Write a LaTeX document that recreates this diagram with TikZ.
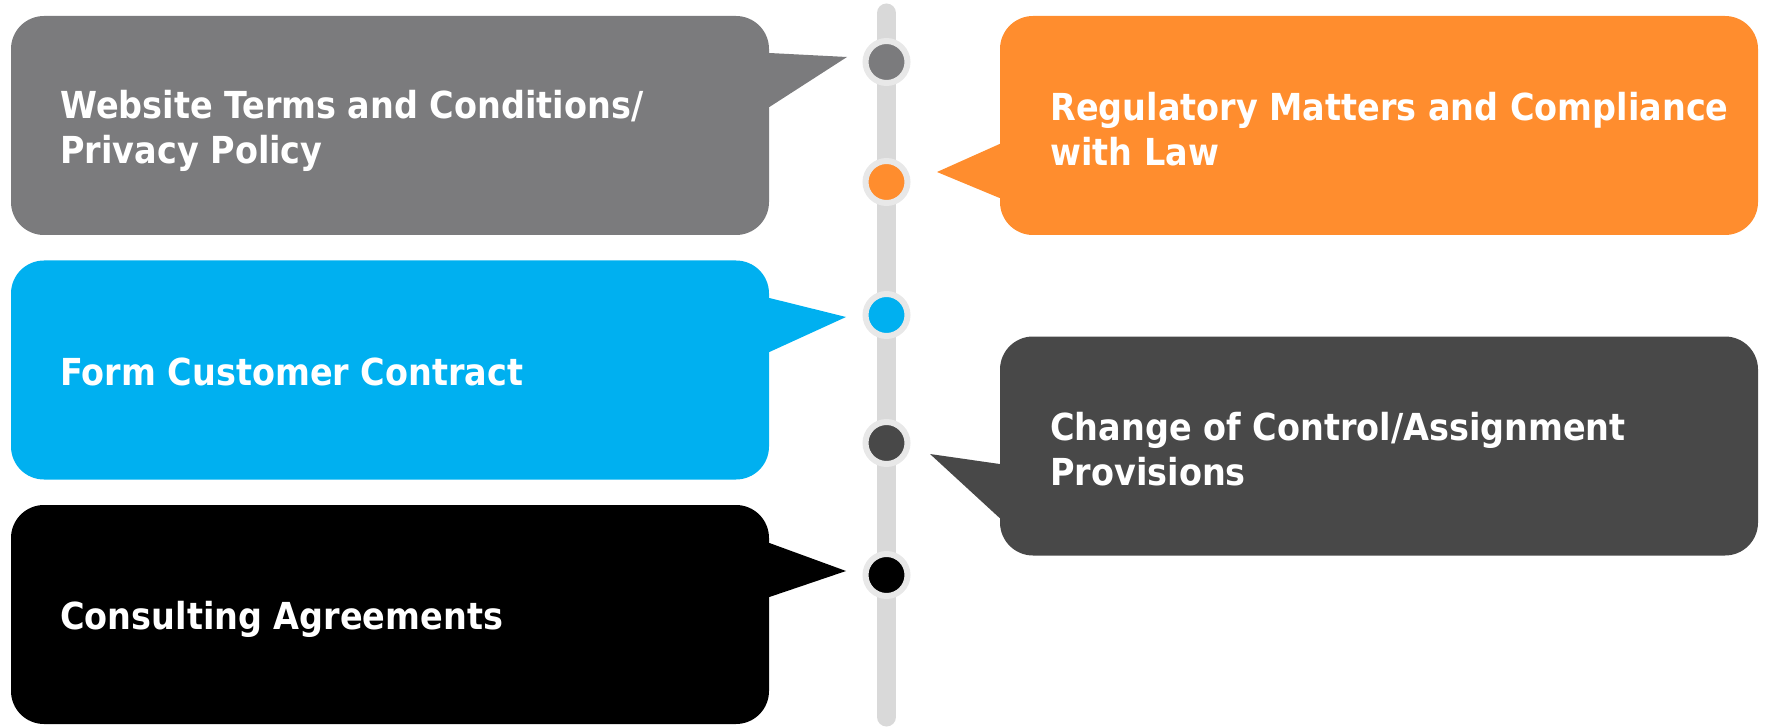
\documentclass[tikz,border=0pt]{standalone}
\usepackage{fontspec}
\newfontfamily\lbl{DejaVu Sans Condensed}
\definecolor{cgray}{HTML}{7B7B7D}
\definecolor{corange}{HTML}{FF8D2E}
\definecolor{cblue}{HTML}{00B0F0}
\definecolor{cdark}{HTML}{484848}
\definecolor{cblack}{HTML}{000000}
\definecolor{cbar}{HTML}{D9D9D9}
\definecolor{cring}{HTML}{E8E8E8}
\tikzset{
  card/.style={fill=#1, rounded corners=16.5pt, inner sep=0pt, minimum width=379pt, minimum height=109.5pt},
  lbltext/.style={anchor=west, text=white, align=left, inner sep=0pt, font=\lbl\bfseries\fontsize{18.6pt}{22.5pt}\selectfont},
  dot/.style={circle, fill=#1, draw=cring, line width=3pt, minimum size=21pt, inner sep=0pt},
}
\begin{document}
\begin{tikzpicture}[x=0.5pt,y=-0.5pt]
\useasboundingbox (0,0) rectangle (1766,727);
% bar
\coordinate (bartop) at (886.5,13);
\coordinate (barbot) at (886.5,717);
\draw[cbar, line width=9.5pt, line cap=round] (bartop) -- (barbot);
% cards
\node[card=cgray]   (c1) at (390,125.5) {};
\node[card=cblue]   (c3) at (390,370) {};
\node[card=cblack]  (c5) at (390,614.5) {};
\node[card=corange] (c2) at (1379,125.5) {};
\node[card=cdark]   (c4) at (1379,446) {};
% dots
\node[dot=cgray]   (d1) at (886.5,62) {};
\node[dot=corange] (d2) at (886.5,182) {};
\node[dot=cblue]   (d3) at (886.5,315) {};
\node[dot=cdark]   (d4) at (886.5,443) {};
\node[dot=cblack]  (d5) at (886.5,575) {};
% tails
\coordinate (t1) at (847,57);
\coordinate (t2) at (937,172);
\coordinate (t3) at (846,317);
\coordinate (t4) at (930,454);
\coordinate (t5) at (846,571);
\fill[cgray]   (c1.east |- 0,53) -- (t1) -- (c1.east |- 0,107) -- ([xshift=-10]c1.east |- 0,107) -- ([xshift=-10]c1.east |- 0,53) -- cycle;
\fill[corange] (c2.west |- 0,144) -- (t2) -- (c2.west |- 0,198) -- ([xshift=10]c2.west |- 0,198) -- ([xshift=10]c2.west |- 0,144) -- cycle;
\fill[cblue]   (c3.east |- 0,298) -- (t3) -- (c3.east |- 0,352) -- ([xshift=-10]c3.east |- 0,352) -- ([xshift=-10]c3.east |- 0,298) -- cycle;
\fill[cdark]   (c4.west |- 0,464) -- (t4) -- (c4.west |- 0,518) -- ([xshift=10]c4.west |- 0,518) -- ([xshift=10]c4.west |- 0,464) -- cycle;
\fill[cblack]  (c5.east |- 0,543) -- (t5) -- (c5.east |- 0,597) -- ([xshift=-10]c5.east |- 0,597) -- ([xshift=-10]c5.east |- 0,543) -- cycle;
% labels
\node[lbltext] (l1) at (60,131) {Website Terms and Conditions/\\Privacy Policy};
\node[lbltext] (l2) at (1050,129) {Regulatory Matters and Compliance\\with Law};
\node[lbltext] (l3) at (60,372) {Form Customer Contract};
\node[lbltext] (l4) at (1050,449) {Change of Control/Assignment\\Provisions};
\node[lbltext] (l5) at (60,619) {Consulting Agreements};
\end{tikzpicture}
\end{document}
